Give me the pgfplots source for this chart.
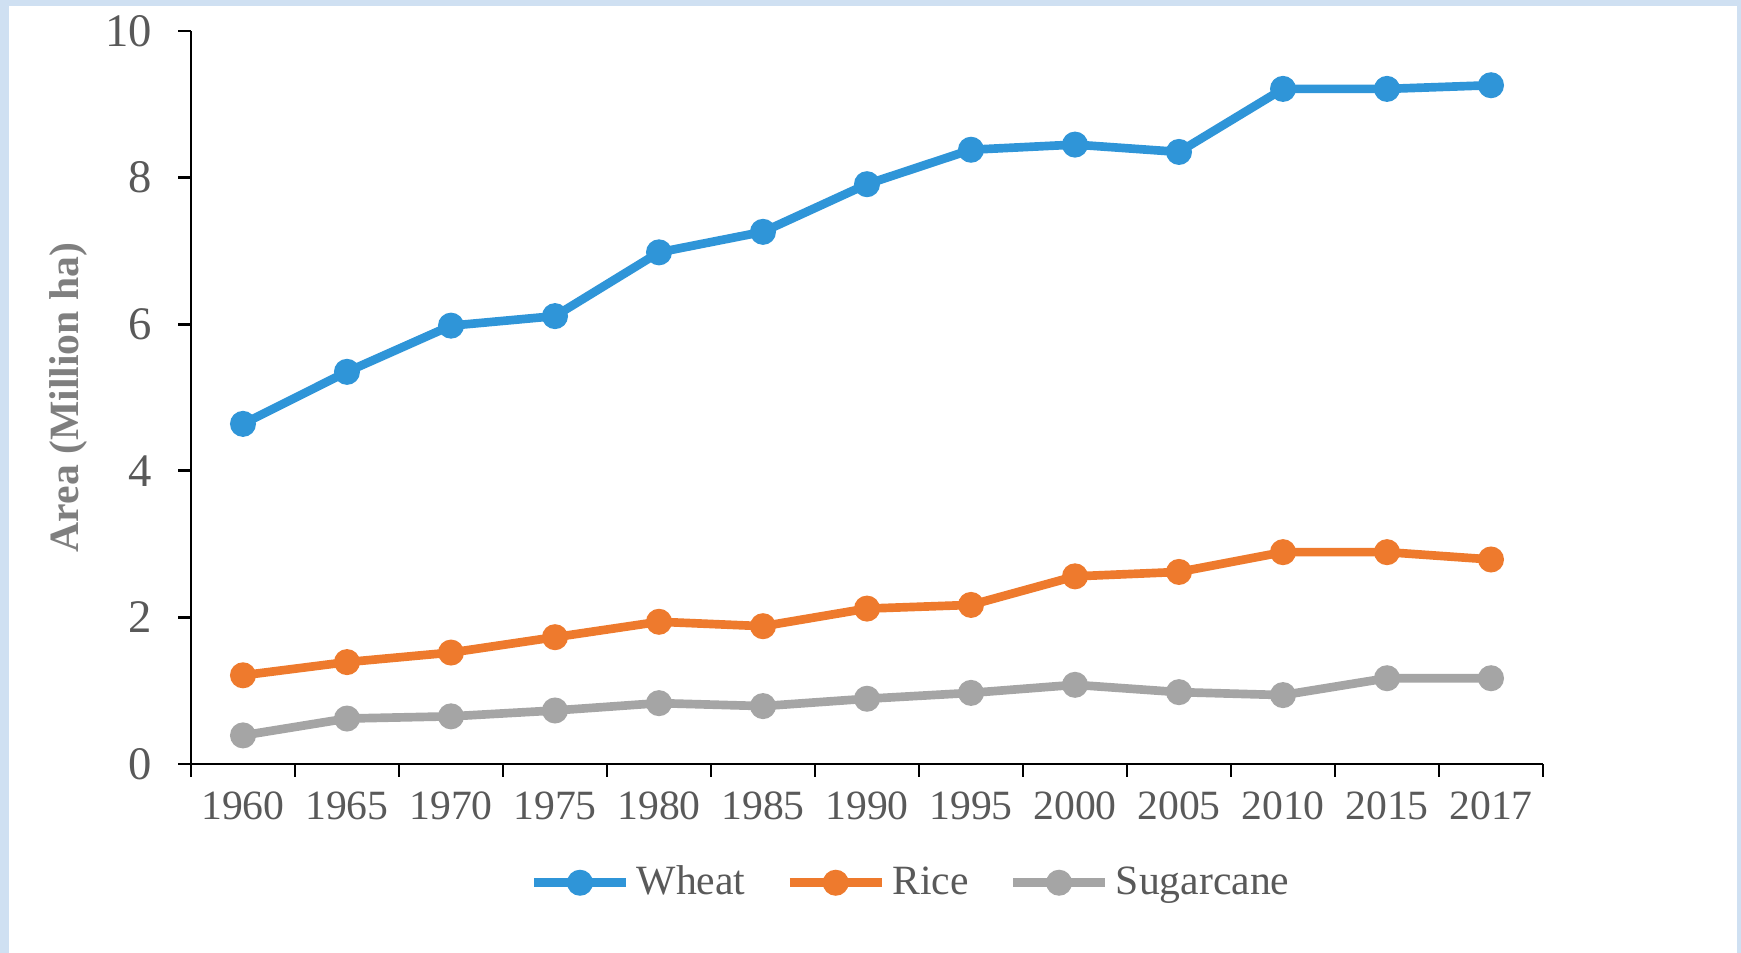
\documentclass[border=0pt]{standalone}
\usepackage{fontspec}
\setmainfont{Liberation Serif}
\usepackage{pgfplots}
\pgfplotsset{compat=1.18}
\definecolor{frameblue}{HTML}{CFE0F2}
\definecolor{wheatc}{HTML}{2F95D8}
\definecolor{ricec}{HTML}{EE7A2D}
\definecolor{sugarc}{HTML}{A5A5A5}
\definecolor{tickgray}{HTML}{595959}
\definecolor{labgray}{HTML}{7F7F7F}
\begin{document}
\begin{tikzpicture}
\useasboundingbox (0,0) rectangle (522.3pt,285.9pt);
\fill[frameblue] (0,0) rectangle (522.3pt,285.9pt);
\fill[white] (2.7pt,0) rectangle (521.1pt,284.1pt);
\begin{axis}[
  at={(57.3pt,56.7pt)}, anchor=south west,
  scale only axis, width=405.6pt, height=219.9pt,
  xmin=-0.5, xmax=12.5, ymin=0, ymax=10,
  axis lines=left, axis line style={-, black, line width=0.8pt},
  xtick={-0.5,0.5,...,12.5},
  x tick label as interval,
  xticklabels={1960,1965,1970,1975,1980,1985,1990,1995,2000,2005,2010,2015,2017},
  ytick={0,2,4,6,8,10},
  tick align=outside, major tick length=3.8pt,
  tick style={black, line width=0.8pt},
  /pgf/number format/assume math mode=true,
  ticklabel style={font=\fontsize{12.5}{15}\selectfont, text=tickgray},
  xticklabel style={yshift=-1pt},
  yticklabel style={xshift=-4.3pt, font=\fontsize{14}{16}\selectfont},
  ylabel={Area (Million ha)},
  ylabel style={at={(rel axis cs:-0.0905,0.5)}, anchor=center, font=\fontsize{12.5}{15}\selectfont\bfseries, text=labgray},
  legend columns=3,
  legend style={at={(rel axis cs:0.534,-0.162)}, anchor=center, draw=none, fill=none,
    font=\fontsize{12.5}{15}\selectfont, text=tickgray,
    /tikz/every even column/.append style={column sep=10pt},
    /tikz/every odd column/.append style={column sep=0pt}},
  legend cell align=left,
  legend image code/.code={\draw[mark repeat=2,mark phase=2,#1] plot coordinates {(0pt,0pt) (13.75pt,0pt) (27.5pt,0pt)};},
  every axis plot/.append style={line width=2.6pt, mark=*, mark size=3.5pt, mark options={solid, line width=0.8pt}},
]
\addplot[color=wheatc] coordinates {(0,4.64) (1,5.35) (2,5.98) (3,6.11) (4,6.98) (5,7.26) (6,7.91) (7,8.38) (8,8.45) (9,8.35) (10,9.21) (11,9.21) (12,9.26)};
\addlegendentry{Wheat}
\addplot[color=ricec] coordinates {(0,1.21) (1,1.39) (2,1.52) (3,1.73) (4,1.94) (5,1.88) (6,2.12) (7,2.17) (8,2.56) (9,2.62) (10,2.89) (11,2.89) (12,2.79)};
\addlegendentry{Rice}
\addplot[color=sugarc] coordinates {(0,0.39) (1,0.62) (2,0.65) (3,0.73) (4,0.83) (5,0.79) (6,0.89) (7,0.97) (8,1.08) (9,0.98) (10,0.94) (11,1.17) (12,1.17)};
\addlegendentry{Sugarcane}
\end{axis}
\end{tikzpicture}
\end{document}
